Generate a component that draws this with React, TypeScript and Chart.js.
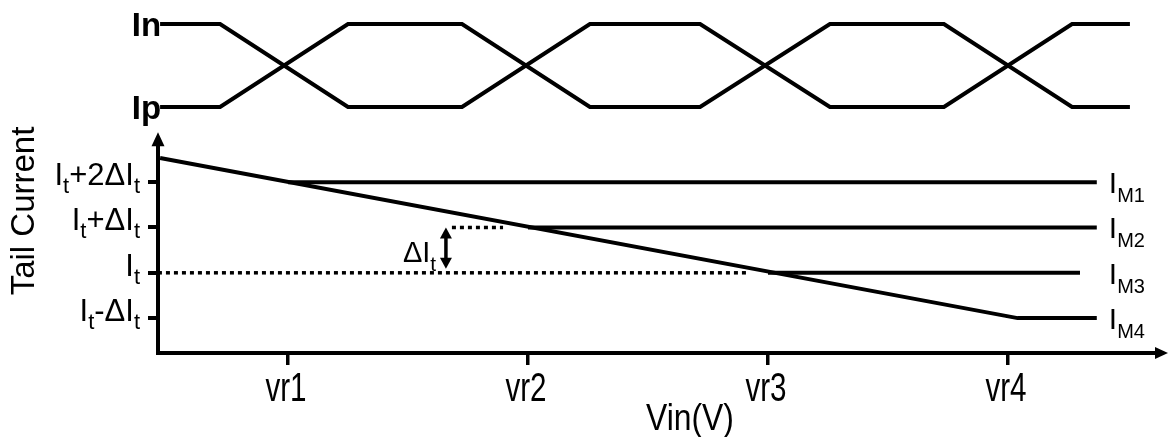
import React, { useEffect, useRef } from 'react';
import { Chart, registerables } from 'chart.js';

Chart.register(...registerables);

const FONT = '"Liberation Sans", Arial, Helvetica, sans-serif';

// x axis: reference voltages
const xTickValues = [1, 2, 3, 4];
const xTickLabels = ['vr1', 'vr2', 'vr3', 'vr4'];

// y axis: tail current levels ("_" marks a subscript)
const yTickValues = [-1, 0, 1, 2];
const yTickLabels = ['I_t-ΔI_t', 'I_t', 'I_t+ΔI_t', 'I_t+2ΔI_t'];

// differential input waveforms (upper panel)
const waveX = [0.467, 0.717, 1.25, 1.725, 2.258, 2.717, 3.258, 3.733, 4.267, 4.508];
const inY = [5.49, 5.49, 3.66, 3.66, 5.49, 5.49, 3.66, 3.66, 5.49, 5.49];
const ipY = [3.66, 3.66, 5.49, 5.49, 3.66, 3.66, 5.49, 5.49, 3.66, 3.66];
const waveLabels = ['In', 'Ip'];

// tail current curves
const tailX = [0.467, 4.04, 4.37];
const tailY = [2.533, -1, -1];
const im1X = [1, 4.37];
const im1Y = [2, 2];
const im2X = [2, 4.37];
const im2Y = [1, 1];
const im3X = [3, 4.3];
const im3Y = [0, 0];
const seriesLabels = ['I_M1', 'I_M2', 'I_M3', 'I_M4'];
const seriesLabelY = [2, 1, 0, -1];

// dotted reference levels and the ΔIt marker
const refItX = [0.458, 2.917];
const refItY = [0, 0];
const refIt1X = [1.683, 1.896];
const refIt1Y = [1, 1];
const deltaArrowX = 1.658;
const deltaArrowY = [1, 0];
const deltaLabel = 'ΔI_t';

const yAxisTop = 3.1;
const xTitle = 'Vin(V)';
const yTitle = 'Tail Current';

const pts = (xs: number[], ys: number[]) => xs.map((x, i) => ({ x, y: ys[i] }));

type Seg = { t: string; sub: boolean };
function parseRich(s: string): Seg[] {
  const segs: Seg[] = [];
  let buf = '';
  let i = 0;
  while (i < s.length) {
    if (s[i] === '_') {
      if (buf) { segs.push({ t: buf, sub: false }); buf = ''; }
      i++;
      let sb = '';
      while (i < s.length && /[A-Za-z0-9]/.test(s[i])) { sb += s[i]; i++; }
      segs.push({ t: sb, sub: true });
    } else { buf += s[i]; i++; }
  }
  if (buf) segs.push({ t: buf, sub: false });
  return segs;
}

function drawRich(ctx: CanvasRenderingContext2D, s: string, x: number, y: number, size: number, subSize: number, subDrop: number, align: 'left' | 'right') {
  const segs = parseRich(s);
  const widths = segs.map((sg) => {
    ctx.font = `${sg.sub ? subSize : size}px ${FONT}`;
    return ctx.measureText(sg.t).width;
  });
  const total = widths.reduce((a, b) => a + b, 0);
  let cx = align === 'right' ? x - total : x;
  ctx.textAlign = 'left';
  ctx.textBaseline = 'alphabetic';
  segs.forEach((sg, i) => {
    ctx.font = `${sg.sub ? subSize : size}px ${FONT}`;
    ctx.fillText(sg.t, cx, sg.sub ? y + subDrop : y);
    cx += widths[i];
  });
}

// narrow text: drawn at a size, squeezed horizontally
function drawNarrow(ctx: CanvasRenderingContext2D, s: string, x: number, y: number, size: number, sx: number) {
  ctx.save();
  ctx.translate(x, y);
  ctx.scale(sx, 1);
  ctx.font = `${size}px ${FONT}`;
  ctx.textAlign = 'center';
  ctx.textBaseline = 'alphabetic';
  ctx.fillText(s, 0, 0);
  ctx.restore();
}

function arrowHead(ctx: CanvasRenderingContext2D, tipX: number, tipY: number, dirX: number, dirY: number, len: number, half: number) {
  const bx = tipX - dirX * len;
  const by = tipY - dirY * len;
  const px = -dirY;
  const py = dirX;
  ctx.beginPath();
  ctx.moveTo(tipX, tipY);
  ctx.lineTo(bx + px * half, by + py * half);
  ctx.lineTo(bx - px * half, by - py * half);
  ctx.closePath();
  ctx.fill();
}

const annotationPlugin = {
  id: 'annotations',
  afterDraw(chart: any) {
    const ctx: CanvasRenderingContext2D = chart.ctx;
    const xs = chart.scales.x;
    const ys = chart.scales.y;
    const area = chart.chartArea;
    ctx.save();
    ctx.fillStyle = '#000';
    ctx.strokeStyle = '#000';

    // axes with arrows
    ctx.lineWidth = 4;
    ctx.lineCap = 'butt';
    const x0 = area.left;
    const y0 = area.bottom;
    const yTop = ys.getPixelForValue(yAxisTop);
    ctx.beginPath();
    ctx.moveTo(x0, y0 + 2);
    ctx.lineTo(x0, yTop + 10);
    ctx.stroke();
    arrowHead(ctx, x0, yTop, 0, -1, 14, 6.5);
    const xEnd = area.right;
    ctx.beginPath();
    ctx.moveTo(x0 - 2, y0);
    ctx.lineTo(xEnd - 10, y0);
    ctx.stroke();
    arrowHead(ctx, xEnd, y0, 1, 0, 13, 6);

    // x tick labels
    xTickValues.forEach((v, i) => {
      drawNarrow(ctx, xTickLabels[i], xs.getPixelForValue(v) - 2, y0 + 48, 40, 0.74);
    });

    // y tick labels
    yTickValues.forEach((v, i) => {
      const py = ys.getPixelForValue(v);
      drawRich(ctx, yTickLabels[i], x0 - 18, py + 3, 31, 22, 8, 'right');
    });

    // series labels
    seriesLabels.forEach((lab, i) => {
      const py = ys.getPixelForValue(seriesLabelY[i]);
      const px = xs.getPixelForValue(im1X[1]) + 12;
      drawRich(ctx, lab, px, py + 11, 30, 20, 9, 'left');
    });

    // waveform labels
    ctx.font = `bold 33px ${FONT}`;
    ctx.textAlign = 'right';
    ctx.textBaseline = 'alphabetic';
    const wx = xs.getPixelForValue(waveX[0]) + 1;
    ctx.fillText(waveLabels[0], wx, ys.getPixelForValue(inY[0]) + 12);
    ctx.fillText(waveLabels[1], wx, ys.getPixelForValue(ipY[0]) + 12);

    // delta arrow
    const ax = xs.getPixelForValue(deltaArrowX);
    const ay1 = ys.getPixelForValue(deltaArrowY[0]);
    const ay2 = ys.getPixelForValue(deltaArrowY[1]);
    ctx.lineWidth = 3.5;
    ctx.beginPath();
    ctx.moveTo(ax, ay1 + 8);
    ctx.lineTo(ax, ay2 - 10);
    ctx.stroke();
    arrowHead(ctx, ax, ay1, 0, -1, 11, 6);
    arrowHead(ctx, ax, ay2 - 4, 0, 1, 11, 6);
    drawRich(ctx, deltaLabel, ax - 43, ay2 - 11, 29, 21, 9, 'left');

    // axis titles
    drawNarrow(ctx, xTitle, 690, 430, 37, 0.86);
    ctx.save();
    ctx.translate(34, 211);
    ctx.rotate(-Math.PI / 2);
    ctx.font = `33px ${FONT}`;
    ctx.textAlign = 'center';
    ctx.textBaseline = 'alphabetic';
    ctx.fillText(yTitle, 0, 0);
    ctx.restore();

    ctx.restore();
  },
};

export default function App() {
  const ref = useRef<HTMLCanvasElement | null>(null);
  useEffect(() => {
    document.body.style.margin = '0';
    const canvas = ref.current;
    if (!canvas) return;
    const line = (data: { x: number; y: number }[], dashed = false) => ({
      data,
      borderColor: '#000',
      backgroundColor: '#000',
      borderWidth: dashed ? 3.5 : 4,
      borderDash: dashed ? [4, 4] : [],
      pointRadius: 0,
      tension: 0,
      fill: false,
      borderJoinStyle: 'miter' as const,
      borderCapStyle: 'butt' as const,
    });
    const chart = new Chart(canvas, {
      type: 'line',
      data: {
        datasets: [
          line(pts(waveX, inY)),
          line(pts(waveX, ipY)),
          line(pts(tailX, tailY)),
          line(pts(im1X, im1Y)),
          line(pts(im2X, im2Y)),
          line(pts(im3X, im3Y)),
          line(pts(refItX, refItY), true),
          line(pts(refIt1X, refIt1Y), true),
        ],
      },
      options: {
        animation: false,
        responsive: false,
        devicePixelRatio: 1,
        layout: { padding: { top: 10, right: 2, bottom: 0, left: 0 } },
        plugins: { legend: { display: false }, tooltip: { enabled: false } },
        scales: {
          x: {
            type: 'linear',
            min: 0.4583,
            max: 4.6667,
            afterBuildTicks: (s: any) => { s.ticks = xTickValues.map((v) => ({ value: v })); },
            afterFit: (s: any) => { s.height = 84; },
            border: { display: false },
            grid: { drawOnChartArea: false, drawTicks: true, tickLength: 12, color: '#000', lineWidth: 3.5 },
            ticks: { display: false },
          },
          y: {
            type: 'linear',
            min: -1.77,
            max: 5.8,
            afterBuildTicks: (s: any) => { s.ticks = yTickValues.map((v) => ({ value: v })); },
            afterFit: (s: any) => { s.width = 158; },
            border: { display: false },
            grid: { drawOnChartArea: false, drawTicks: true, tickLength: 10, color: '#000', lineWidth: 4 },
            ticks: { display: false },
          },
        },
      },
      plugins: [annotationPlugin],
    });
    return () => chart.destroy();
  }, []);
  return (
    <div style={{ position: 'absolute', left: 0, top: 0, width: 1170, height: 437, background: '#fff' }}>
      <canvas ref={ref} width={1170} height={437} style={{ display: 'block' }} />
    </div>
  );
}
